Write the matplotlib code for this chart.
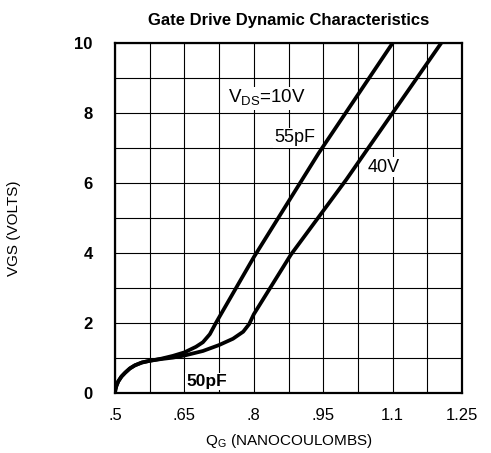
import matplotlib
matplotlib.use("Agg")
import matplotlib.pyplot as plt
from matplotlib.ticker import FixedLocator, MultipleLocator

plt.rcParams['font.family'] = ['Liberation Sans', 'DejaVu Sans']

# gate charge (nC) vs gate-source voltage (V)
qg_10v = [0.5, 0.501, 0.503, 0.507, 0.514, 0.522, 0.532, 0.543, 0.558, 0.575,
          0.6, 0.625, 0.65, 0.675, 0.69, 0.705, 0.718, 0.8, 0.94, 1.1]
vgs_10v = [0.0, 0.1, 0.2, 0.33, 0.47, 0.58, 0.7, 0.79, 0.87, 0.92,
           0.98, 1.06, 1.16, 1.32, 1.45, 1.68, 2.0, 3.88, 6.85, 10.0]

qg_40v = [0.5, 0.501, 0.503, 0.507, 0.514, 0.522, 0.532, 0.543, 0.558, 0.575,
          0.6, 0.625, 0.65, 0.69, 0.725, 0.755, 0.777, 0.79, 0.8, 0.88,
          1.0, 1.205]
vgs_40v = [0.0, 0.1, 0.2, 0.33, 0.47, 0.58, 0.7, 0.79, 0.87, 0.92,
           0.97, 1.01, 1.07, 1.2, 1.37, 1.55, 1.75, 1.97, 2.25, 3.95,
           6.1, 10.0]

x_ticks = [0.5, 0.65, 0.8, 0.95, 1.1, 1.25]
x_labels = ['.5', '.65', '.8', '.95', '1.1', '1.25']
y_ticks = [0, 2, 4, 6, 8, 10]

fig = plt.figure(figsize=(4.91, 4.53), dpi=100)
ax = fig.add_axes([0.2342, 0.1325, 0.7068, 0.7725])

ax.plot(qg_10v, vgs_10v, color='black', linewidth=2.7, solid_joinstyle='round', zorder=3)
ax.plot(qg_40v, vgs_40v, color='black', linewidth=2.7, solid_joinstyle='round', zorder=3)

ax.set_xlim(0.5, 1.25)
ax.set_ylim(0, 10)

ax.xaxis.set_major_locator(FixedLocator(x_ticks))
ax.set_xticklabels(x_labels)
ax.xaxis.set_minor_locator(MultipleLocator(0.075, offset=0.5))
ax.yaxis.set_major_locator(FixedLocator(y_ticks))
ax.yaxis.set_minor_locator(MultipleLocator(1))

ax.grid(which='both', color='black', linewidth=0.8)
ax.tick_params(which='both', length=0)
ax.tick_params(axis='x', pad=11, labelsize=12)
ax.tick_params(axis='y', pad=16, labelsize=12)
for lbl in ax.get_yticklabels():
    lbl.set_fontweight('bold')

for side in ax.spines.values():
    side.set_linewidth(1.6)

ax.set_title('Gate Drive Dynamic Characteristics', fontsize=12,
             fontweight='bold', pad=13)
ax.set_xlabel(r'Q$_{\mathregular{G}}$ (NANOCOULOMBS)', fontsize=11, labelpad=6)
ax.set_ylabel('VGS (VOLTS)', fontsize=11)
ax.yaxis.set_label_coords(-0.27, 0.47)

box = dict(facecolor='white', edgecolor='none', pad=1)
ax.text(0.828, 8.42, r'V$_{\mathregular{DS}}$=10V', fontsize=13.5,
        ha='center', va='center', bbox=box, zorder=4)
ax.text(0.933, 7.29, '55pF', fontsize=13, ha='right', va='center',
        bbox=box, zorder=2)
ax.text(1.08, 6.45, '40V', fontsize=13, ha='center', va='center',
        bbox=box, zorder=2)
ax.text(0.698, 0.33, '50pF', fontsize=12.5, fontweight='bold',
        ha='center', va='center', bbox=box, zorder=2)

fig.savefig('out.png', dpi=100)
